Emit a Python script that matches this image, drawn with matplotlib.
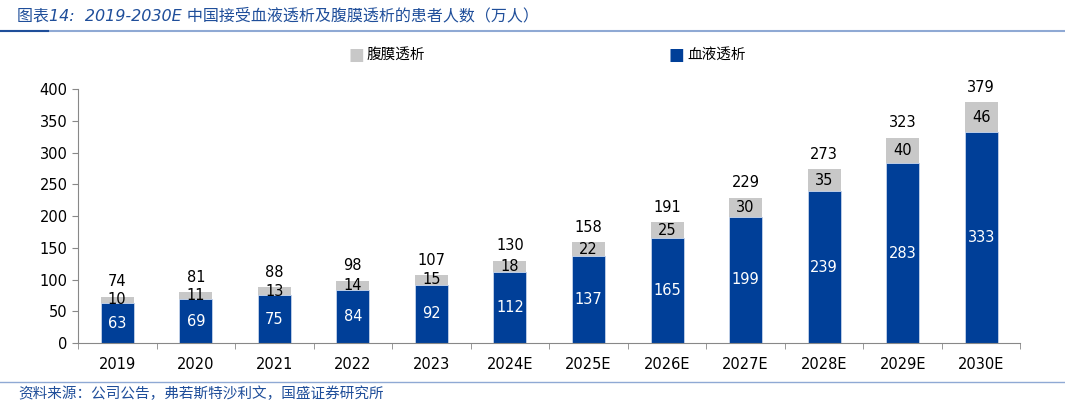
import matplotlib
matplotlib.use("Agg")
from matplotlib import pyplot as plt
from matplotlib.lines import Line2D
import numpy as np

plt.rcParams["font.family"] = ["DejaVu Sans", "Noto Sans CJK SC"]

years = ["2019", "2020", "2021", "2022", "2023", "2024E", "2025E",
         "2026E", "2027E", "2028E", "2029E", "2030E"]
hemo = [63, 69, 75, 84, 92, 112, 137, 165, 199, 239, 283, 333]
perit = [10, 11, 13, 14, 15, 18, 22, 25, 30, 35, 40, 46]
totals = [74, 81, 88, 98, 107, 130, 158, 191, 229, 273, 323, 379]

blue = "#003f98"
gray = "#c8c8c8"
title_color = "#1f4e9a"

fig = plt.figure(figsize=(10.65, 4.07), dpi=100)
ax = fig.add_axes([0.0732, 0.157, 0.885, 0.624])

x = np.arange(len(years))
w = 0.42
ax.bar(x, hemo, w, color=blue, edgecolor="#c5d3ea", linewidth=0.6, label="血液透析")
ax.bar(x, perit, w, bottom=hemo, color=gray, label="腹膜透析")

for i in range(len(years)):
    ax.text(x[i], hemo[i] / 2, str(hemo[i]), ha="center", va="center",
            color="white", fontsize=10.5)
    ax.text(x[i], hemo[i] + perit[i] / 2, str(perit[i]), ha="center", va="center",
            color="black", fontsize=10.5)
    ax.text(x[i], hemo[i] + perit[i] + 12, str(totals[i]), ha="center", va="bottom",
            color="black", fontsize=10.5)

ax.set_xlim(-0.5, len(years) - 0.5)
ax.set_ylim(0, 400)
ax.set_yticks(range(0, 401, 50))
ax.set_xticks(x)
ax.set_xticklabels(years, fontsize=10.5)
ax.tick_params(axis="x", length=0, pad=10)
ax.set_xticks(np.arange(-0.5, len(years), 1), minor=True)
ax.tick_params(axis="x", which="minor", length=4, color="#888888")
ax.tick_params(axis="y", labelsize=10.5, length=4, color="#888888")
for s in ["top", "right"]:
    ax.spines[s].set_visible(False)
for s in ["left", "bottom"]:
    ax.spines[s].set_color("#888888")

# legend
fig.text(0.335, 0.866, "■", color=gray, fontsize=12, ha="center", va="center")
fig.text(0.344, 0.866, "腹膜透析", fontsize=10.5, ha="left", va="center",
         family=["Noto Sans CJK SC"])
fig.text(0.6355, 0.866, "■", color=blue, fontsize=12, ha="center", va="center")
fig.text(0.645, 0.866, "血液透析", fontsize=10.5, ha="left", va="center",
         family=["Noto Sans CJK SC"])

# title and footer
fig.text(0.016, 0.962, "图表14:  2019-2030E 中国接受血液透析及腹膜透析的患者人数（万人）",
         color=title_color, fontsize=11.5, style="italic", ha="left", va="center",
         family=["DejaVu Sans", "Noto Sans CJK SC"])
fig.add_artist(Line2D([0.0, 1.0], [0.925, 0.925], color="#8fa9d4", linewidth=1.5))
fig.add_artist(Line2D([0.0, 0.045], [0.925, 0.925], color=title_color, linewidth=1.5))
fig.add_artist(Line2D([0.0, 1.0], [0.062, 0.062], color="#8fa9d4", linewidth=1.0))
fig.text(0.017, 0.033, "资料来源：公司公告，弗若斯特沙利文，国盛证券研究所",
         color=title_color, fontsize=10.5, style="italic", ha="left", va="center",
         family=["Noto Sans CJK SC"])

fig.savefig("out.png", dpi=100)
